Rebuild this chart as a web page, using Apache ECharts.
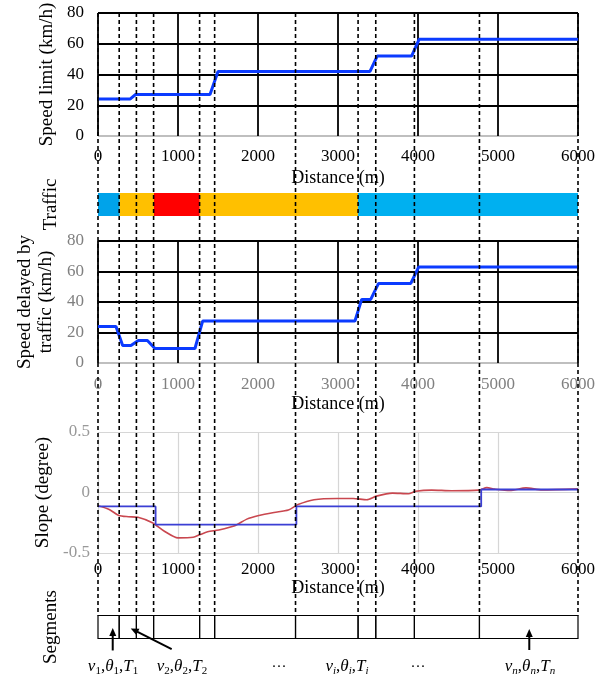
<!DOCTYPE html>
<html><head><meta charset="utf-8">
<script src="https://cdn.jsdelivr.net/npm/echarts@6/dist/echarts.min.js"></script>
<style>html,body{margin:0;padding:0;background:#fff}#c{width:615px;height:681px}</style>
</head><body><div id="c"></div>
<script>
// ---------- data ----------
const distanceTicks = [0, 1000, 2000, 3000, 4000, 5000, 6000];
const speedTicks = [0, 20, 40, 60, 80];
const slopeTicks = [-0.5, 0, 0.5];

const speedLimitX = [0, 400, 470, 1400, 1500, 3400, 3490, 3920, 4015, 6000];
const speedLimitY = [24, 24, 27, 27, 42, 42, 52, 52, 63, 63];

const delayedX = [0, 225, 308, 412, 504, 617, 712, 1212, 1308, 3212, 3296, 3409, 3507, 3910, 4009, 6000];
const delayedY = [24, 24, 11.5, 11.5, 14.8, 14.8, 9.5, 9.5, 27.5, 27.5, 41.7, 41.7, 52.2, 52.2, 63, 63];

const trafficStart = [0, 272, 700, 1272, 3251];
const trafficEnd = [272, 700, 1272, 3251, 6000];
const trafficColors = ['#00A3EA', '#FFC000', '#FF0000', '#FFC000', '#00B0F0'];

const slopeRawX = [0, 140, 260, 380, 500, 680, 830, 1000, 1190, 1270, 1370, 1510, 1710, 1860, 2010, 2200, 2380, 2500, 2700, 2990, 3190, 3360, 3480, 3680, 3880, 3970, 4170, 4420, 4760, 4860, 4960, 5150, 5350, 5550, 6000];
const slopeRawY = [-0.11, -0.14, -0.19, -0.2, -0.205, -0.25, -0.32, -0.375, -0.37, -0.35, -0.325, -0.31, -0.275, -0.22, -0.19, -0.165, -0.145, -0.1, -0.06, -0.05, -0.05, -0.06, -0.03, -0.005, -0.01, 0.01, 0.02, 0.015, 0.02, 0.04, 0.028, 0.016, 0.038, 0.022, 0.03];

const slopeStepX = [0, 720, 2480, 4790, 6000];
const slopeStepY = [-0.115, -0.265, -0.115, 0.025, 0.025];

const segmentBounds = [0, 265, 480, 695, 1270, 1458, 2469, 3251, 3472, 3955, 4768, 6000];

const annoSub = ['1', '2', '', 'i', '', 'n'];
const annoX = [188, 1050, 2262, 3112, 4000, 5400];
const arrowFrom = [[184, -0.52], [921, -0.46], [5391, -0.5]];
const arrowTo = [[184, 0.46], [409, 0.44], [5391, 0.41]];

// ---------- chart ----------
const FONT = "'Liberation Serif', 'Times New Roman', serif";
const chart = echarts.init(document.getElementById('c'));

const L = 98, W = 480;
const grids = [
  { left: L, width: W, top: 13, height: 123 },     // speed limit
  { left: L, width: W, top: 193, height: 23 },     // traffic
  { left: L, width: W, top: 241, height: 122 },    // delayed speed
  { left: L, width: W, top: 432, height: 121 },    // slope
  { left: L, width: W, top: 615.5, height: 23 },   // segments
  { left: L, width: W, top: 13, height: 602.5 }    // dashed overlay
].map(g => Object.assign({ outerBoundsMode: 'none', containLabel: false }, g));

const dMin = distanceTicks[0], dMax = distanceTicks[distanceTicks.length - 1], dInt = distanceTicks[1] - distanceTicks[0];
const plainNum = v => String(v);

function distAxis(gi, o) {
  return {
    gridIndex: gi, type: 'value', min: dMin, max: dMax, interval: dInt,
    show: o.show !== false,
    axisLine: { show: false }, axisTick: { show: false },
    axisLabel: { show: !!o.labels, formatter: plainNum, color: o.labelColor || '#000', fontFamily: FONT, fontSize: 17, margin: o.margin || 12 },
    splitLine: { show: !!o.split, lineStyle: { color: o.splitColor || '#000', width: o.splitWidth || 1.8 } },
    name: o.labels ? 'Distance (m)' : '', nameLocation: 'middle', nameGap: o.nameGap || 33,
    nameTextStyle: { fontFamily: FONT, fontSize: 18, color: '#000' }
  };
}
function hiddenY(gi, name, gap) {
  return {
    gridIndex: gi, type: 'value', min: 0, max: 1,
    axisLine: { show: false }, axisTick: { show: false }, axisLabel: { show: false }, splitLine: { show: false },
    name: name || '', nameLocation: 'middle', nameRotate: 90, nameGap: gap || 37,
    nameTextStyle: { fontFamily: FONT, fontSize: 19, color: '#000' }
  };
}

const xAxes = [
  distAxis(0, { labels: true, split: true, margin: 12, nameGap: 33 }),
  distAxis(1, { show: false }),
  distAxis(2, { labels: true, split: true, labelColor: '#808080', margin: 13, nameGap: 32 }),
  distAxis(3, { labels: true, split: true, splitColor: '#d6d6d6', splitWidth: 1.2, margin: 8, nameGap: 26 }),
  distAxis(4, { show: false }),
  distAxis(5, { show: false })
];

const yAxes = [
  {
    gridIndex: 0, type: 'value', min: speedTicks[0], max: speedTicks[speedTicks.length - 1], interval: speedTicks[1] - speedTicks[0],
    axisLine: { show: false }, axisTick: { show: false },
    axisLabel: { color: '#000', fontFamily: FONT, fontSize: 17, margin: 14 },
    splitLine: { lineStyle: { color: ['#bfbfbf', '#000', '#000', '#000', '#000'], width: 1.8 } },
    name: 'Speed limit (km/h)', nameLocation: 'middle', nameRotate: 90, nameGap: 37,
    nameTextStyle: { fontFamily: FONT, fontSize: 19, color: '#000' }
  },
  hiddenY(1, 'Traffic', 37),
  {
    gridIndex: 2, type: 'value', min: speedTicks[0], max: speedTicks[speedTicks.length - 1], interval: speedTicks[1] - speedTicks[0],
    axisLine: { show: false }, axisTick: { show: false },
    axisLabel: { color: '#808080', fontFamily: FONT, fontSize: 17, margin: 14 },
    splitLine: { lineStyle: { color: ['#bfbfbf', '#000', '#000', '#000', '#000'], width: 1.8 } },
    name: 'Speed delayed by\ntraffic (km/h)', nameLocation: 'middle', nameRotate: 90, nameGap: 36,
    nameTextStyle: { fontFamily: FONT, fontSize: 19, color: '#000', lineHeight: 21 }
  },
  {
    gridIndex: 3, type: 'value', min: slopeTicks[0], max: slopeTicks[slopeTicks.length - 1], interval: slopeTicks[1] - slopeTicks[0],
    axisLine: { show: false }, axisTick: { show: false },
    axisLabel: { color: '#999', fontFamily: FONT, fontSize: 17, margin: 8 },
    splitLine: { lineStyle: { color: '#d6d6d6', width: 1.2 } },
    name: 'Slope (degree)', nameLocation: 'middle', nameRotate: 90, nameGap: 37,
    nameTextStyle: { fontFamily: FONT, fontSize: 19, color: '#000' }
  },
  hiddenY(4, 'Segments', 37),
  hiddenY(5, '', 37)
];

function zip(xs, ys) { return xs.map((x, i) => [x, ys[i]]); }

function richLabel(sub) {
  if (!sub) return '{d|···}';
  const s = /^[0-9]$/.test(sub) ? 's' : 'si';
  return '{i|v}{' + s + '|' + sub + '}{n|,}{i|θ}{' + s + '|' + sub + '}{n|,}{i|T}{' + s + '|' + sub + '}';
}
const richStyles = {
  i: { fontFamily: FONT, fontSize: 17, fontStyle: 'italic', lineHeight: 20, fill: '#000' },
  n: { fontFamily: FONT, fontSize: 17, lineHeight: 20, fill: '#000' },
  s: { fontFamily: FONT, fontSize: 11, lineHeight: 11, verticalAlign: 'bottom', fill: '#000' },
  si: { fontFamily: FONT, fontSize: 11, fontStyle: 'italic', lineHeight: 11, verticalAlign: 'bottom', fill: '#000' },
  d: { fontFamily: FONT, fontSize: 15, lineHeight: 20, fill: '#000' }
};

const series = [
  { type: 'line', xAxisIndex: 0, yAxisIndex: 0, data: zip(speedLimitX, speedLimitY), showSymbol: false, symbol: 'none',
    lineStyle: { color: '#0b3bff', width: 3 }, z: 5, silent: true },
  { type: 'custom', xAxisIndex: 1, yAxisIndex: 1, silent: true,
    data: trafficStart.map((s, i) => [s, trafficEnd[i], i]), encode: { x: [0, 1] },
    renderItem: (p, api) => {
      const a = api.coord([api.value(0), 1]), b = api.coord([api.value(1), 0]);
      return { type: 'rect', shape: { x: a[0], y: a[1], width: b[0] - a[0], height: b[1] - a[1] }, style: { fill: trafficColors[api.value(2)] } };
    } },
  { type: 'line', xAxisIndex: 2, yAxisIndex: 2, data: zip(delayedX, delayedY), showSymbol: false, symbol: 'none',
    lineStyle: { color: '#0b3bff', width: 3 }, z: 5, silent: true },
  { type: 'line', xAxisIndex: 3, yAxisIndex: 3, data: zip(slopeRawX, slopeRawY), showSymbol: false, symbol: 'none', smooth: 0.25,
    lineStyle: { color: '#c9474f', width: 1.6 }, z: 5, silent: true },
  { type: 'line', xAxisIndex: 3, yAxisIndex: 3, data: zip(slopeStepX, slopeStepY), showSymbol: false, symbol: 'none', step: 'end',
    lineStyle: { color: '#3b3fd4', width: 1.8 }, z: 6, silent: true },
  { type: 'custom', xAxisIndex: 4, yAxisIndex: 4, silent: true,
    data: segmentBounds.slice(0, -1).map((s, i) => [s, segmentBounds[i + 1]]), encode: { x: [0, 1] },
    renderItem: (p, api) => {
      const a = api.coord([api.value(0), 1]), b = api.coord([api.value(1), 0]);
      return { type: 'rect', shape: { x: a[0], y: a[1], width: b[0] - a[0], height: b[1] - a[1] }, style: { fill: null, stroke: '#000', lineWidth: 1.2 } };
    } },
  { type: 'custom', xAxisIndex: 4, yAxisIndex: 4, silent: true, clip: false, z: 8,
    data: arrowFrom.map((f, i) => [f[0], f[1], arrowTo[i][0], arrowTo[i][1]]), encode: { x: [0, 2] },
    renderItem: (p, api) => {
      const a = api.coord([api.value(0), api.value(1)]), b = api.coord([api.value(2), api.value(3)]);
      const dx = b[0] - a[0], dy = b[1] - a[1], len = Math.hypot(dx, dy), ux = dx / len, uy = dy / len;
      const nx = -uy, ny = ux, hl = 8, hw = 3.5;
      return { type: 'group', children: [
        { type: 'line', shape: { x1: a[0], y1: a[1], x2: b[0] - ux * 6, y2: b[1] - uy * 6 }, style: { stroke: '#000', lineWidth: 2 } },
        { type: 'polygon', shape: { points: [[b[0], b[1]], [b[0] - ux * hl + nx * hw, b[1] - uy * hl + ny * hw], [b[0] - ux * hl - nx * hw, b[1] - uy * hl - ny * hw]] }, style: { fill: '#000' } }
      ] };
    } },
  { type: 'custom', xAxisIndex: 4, yAxisIndex: 4, silent: true, clip: false, z: 8,
    data: annoX.map((x, i) => [x, -1.24, i]), encode: { x: 0 },
    renderItem: (p, api) => {
      const c = api.coord([api.value(0), api.value(1)]);
      return { type: 'text', x: c[0], y: c[1], style: { text: richLabel(annoSub[api.value(2)]), rich: richStyles, align: 'center', verticalAlign: 'middle', fontFamily: FONT, fontSize: 17, fill: '#000' } };
    } },
  { type: 'custom', xAxisIndex: 5, yAxisIndex: 5, silent: true, z: 20,
    data: segmentBounds.map(x => [x, 0]), encode: { x: 0 },
    renderItem: (p, api) => {
      const a = api.coord([api.value(0), 1]), b = api.coord([api.value(0), 0]);
      return { type: 'line', shape: { x1: a[0], y1: a[1], x2: b[0], y2: b[1] }, style: { stroke: '#000', lineWidth: 1.6, lineDash: [4, 3] } };
    } }
];

chart.setOption({
  animation: false,
  backgroundColor: '#fff',
  textStyle: { fontFamily: FONT },
  grid: grids,
  xAxis: xAxes,
  yAxis: yAxes,
  series: series
});
</script>
</body></html>
